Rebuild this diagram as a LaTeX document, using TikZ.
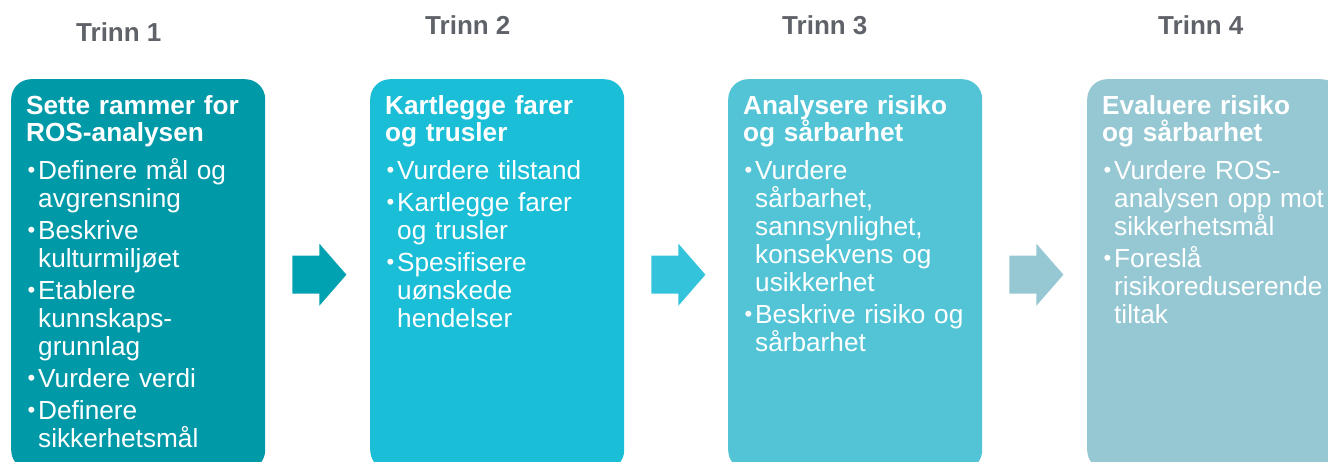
\documentclass[tikz,border=0pt]{standalone}
\usepackage{fontspec}
\setmainfont{Liberation Sans}
\usepackage{tikz}
\usetikzlibrary{calc}

\definecolor{boks1}{HTML}{0099A8}
\definecolor{boks2}{HTML}{1ABED6}
\definecolor{boks3}{HTML}{53C4D6}
\definecolor{boks4}{HTML}{96C8D4}
\definecolor{pil1}{HTML}{00A2B2}
\definecolor{pil2}{HTML}{33C4DB}
\definecolor{pil3}{HTML}{96C8D4}
\definecolor{trinngraa}{HTML}{5F6369}

\newcommand{\pkt}[1]{\par\hangindent=12pt\hangafter=1\makebox[12pt][l]{\hspace{1.5pt}\raisebox{2pt}{\fontsize{22}{22}\selectfont\textbullet}}#1\par}
\newcommand{\overskrift}[1]{{\fontsize{26.2}{27}\selectfont\bfseries #1\par}\vspace{6pt}}

\tikzset{
	stepbox/.style={anchor=north west, inner sep=0pt, minimum width=254pt, minimum height=391pt, rounded corners=20pt},
	boksttekst/.style={text=white, anchor=base west, inner sep=0pt, text width=262pt, align=left, font=\fontsize{26.2}{28}\selectfont, execute at begin node=\setlength{\parskip}{4pt}},
	trinn/.style={text=trinngraa, anchor=base west, inner sep=0pt, font=\fontsize{26}{26}\selectfont\bfseries}
}

\begin{document}
\begin{tikzpicture}[x=1pt,y=-1pt]
\useasboundingbox (0,0) rectangle (1328,462);
\clip (0,0) rectangle (1328,462);
\foreach \n/\x/\y in {1/76/42, 2/425/35, 3/782/35, 4/1158/35}
	\node[trinn] (trinn\n) at (\x,\y) {Trinn \n};
\foreach \n/\x in {1/11, 2/370, 3/728, 4/1087}
	\node[stepbox, fill=boks\n] (r\n) at (\x,79) {};
\foreach \a/\b/\n in {r1/r2/1, r2/r3/2, r3/r4/3}
	\fill[pil\n] ($(\a.east)+(27,-19)$) -- ++(27,0) -- ++(0,-12) -- ++(27,31) -- ++(-27,31) -- ++(0,-12) -- ++(-27,0) -- cycle;

\node[boksttekst] (tekst1) at ($(r1.north west)+(15,36)$) {\overskrift{Sette rammer for\newline ROS-analysen}
	\pkt{Definere mål og\newline avgrensning}
	\pkt{Beskrive\newline kulturmiljøet}
	\pkt{Etablere\newline kunnskaps-\newline grunnlag}
	\pkt{Vurdere verdi}
	\pkt{Definere\newline sikkerhetsmål}};
\node[boksttekst] (tekst2) at ($(r2.north west)+(15,36)$) {\overskrift{Kartlegge farer\newline og trusler}
	\pkt{Vurdere tilstand}
	\pkt{Kartlegge farer\newline og trusler}
	\pkt{Spesifisere\newline uønskede\newline hendelser}};
\node[boksttekst] (tekst3) at ($(r3.north west)+(15,36)$) {\overskrift{Analysere risiko\newline og sårbarhet}
	\pkt{Vurdere\newline sårbarhet,\newline sannsynlighet,\newline konsekvens og\newline usikkerhet}
	\pkt{Beskrive risiko og\newline sårbarhet}};
\node[boksttekst] (tekst4) at ($(r4.north west)+(15,36)$) {\overskrift{Evaluere risiko\newline og sårbarhet}
	\pkt{Vurdere ROS-\newline analysen opp mot\newline sikkerhetsmål}
	\pkt{Foreslå\newline risikoreduserende\newline tiltak}};

\end{tikzpicture}
\end{document}
